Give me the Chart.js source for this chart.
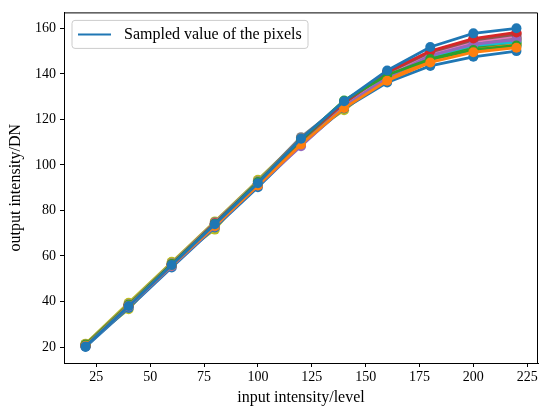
<!DOCTYPE html>
<html><head><meta charset="utf-8">
<script src="https://cdn.jsdelivr.net/npm/chart.js@4"></script>
<style>html,body{margin:0;padding:0;background:#fff}#wrap{width:543px;height:409px}</style>
</head><body><div id="wrap"><canvas id="c" width="543" height="409"></canvas></div>
<script>
// ---- data ----
const inputLevels = [20, 40, 60, 80, 100, 120, 140, 160, 180, 200, 220];
const xTicks = [25, 50, 75, 100, 125, 150, 175, 200, 225];
const yTicks = [20, 40, 60, 80, 100, 120, 140, 160];
const legendLabel = 'Sampled value of the pixels';

const pixel01 = [20.3, 38.0, 56.0, 74.0, 92.0, 111.5, 128.0, 141.5, 151.8, 157.8, 160.0];
const pixel02 = [20.6, 38.2, 55.8, 73.2, 91.0, 109.0, 125.0, 137.0, 145.0, 149.5, 151.5];
const pixel03 = [21.0, 38.6, 56.5, 74.2, 92.5, 111.0, 128.3, 139.5, 146.5, 150.5, 152.5];
const pixel04 = [20.7, 38.4, 56.4, 74.4, 92.3, 111.2, 127.5, 140.8, 150.0, 155.5, 158.2];
const pixel05 = [20.4, 37.8, 55.5, 73.0, 91.0, 108.2, 125.5, 138.5, 148.0, 153.0, 155.0];
const pixel06 = [20.8, 38.5, 56.3, 74.0, 91.8, 110.5, 127.0, 140.5, 149.5, 154.8, 157.3];
const pixel07 = [20.9, 38.6, 56.6, 74.5, 92.6, 110.8, 126.8, 140.0, 149.0, 154.2, 156.6];
const pixel08 = [21.1, 38.8, 56.8, 74.8, 92.8, 112.2, 127.2, 140.2, 148.8, 153.8, 156.0];
const pixel09 = [21.4, 39.5, 57.2, 75.2, 93.2, 111.8, 126.5, 139.8, 148.5, 153.5, 155.5];
const pixel10 = [20.6, 38.1, 55.9, 73.6, 91.5, 109.8, 126.0, 139.0, 147.8, 152.5, 154.0];
const pixel11 = [20.0, 37.2, 55.0, 72.5, 90.2, 108.8, 124.8, 136.2, 143.5, 147.5, 150.0];
const pixel12 = [20.5, 38.0, 55.6, 73.3, 91.2, 109.2, 125.6, 137.8, 146.0, 150.5, 152.9];
const pixel13 = [20.8, 38.4, 56.2, 73.9, 91.7, 110.2, 126.2, 138.6, 147.0, 151.5, 153.4];
const pixel14 = [20.9, 38.7, 56.5, 74.3, 92.0, 110.7, 127.3, 140.6, 149.8, 155.0, 157.7];
const pixel15 = [20.7, 38.3, 56.1, 73.8, 91.6, 109.8, 126.4, 139.3, 148.3, 153.2, 155.8];
const pixel16 = [20.6, 38.2, 56.0, 73.7, 91.4, 109.6, 126.0, 139.1, 148.2, 153.0, 154.6];
const pixel17 = [20.8, 38.5, 56.3, 74.1, 91.9, 110.1, 126.6, 139.5, 148.6, 153.6, 156.2];
const pixel18 = [20.5, 37.9, 55.7, 73.4, 91.3, 109.4, 125.9, 138.7, 147.6, 152.8, 155.2];
const pixel19 = [21.5, 36.6, 57.5, 71.6, 93.5, 111.5, 124.0, 139.2, 147.2, 152.0, 153.7];
const pixel20 = [20.6, 38.2, 56.0, 73.6, 91.5, 109.7, 126.1, 138.9, 147.4, 151.2, 152.2];

const seriesList = [pixel01, pixel02, pixel03, pixel04, pixel05, pixel06, pixel07, pixel08, pixel09, pixel10,
                    pixel11, pixel12, pixel13, pixel14, pixel15, pixel16, pixel17, pixel18, pixel19, pixel20];
const palette = ['#1f77b4', '#ff7f0e', '#2ca02c', '#d62728', '#9467bd', '#8c564b', '#e377c2', '#7f7f7f', '#bcbd22', '#17becf'];

// ---- chart ----
const FONT = 'Liberation Serif, "Times New Roman", Times, serif';
const tickFont = { family: FONT, size: 14 };

const datasets = seriesList.map((vals, i) => {
  const col = palette[i % palette.length];
  return {
    label: i === 0 ? legendLabel : '_nolegend_',
    data: inputLevels.map((x, j) => ({ x: x, y: vals[j] })),
    borderColor: col,
    backgroundColor: col,
    pointBackgroundColor: col,
    pointBorderWidth: 0,
    pointRadius: 5,
    borderWidth: 2.8,
    tension: 0,
    fill: false
  };
});

const framePlugin = {
  id: 'frame',
  afterDatasetsDraw(chart) {
    const { ctx, chartArea: a } = chart;
    ctx.save();
    ctx.strokeStyle = '#000';
    ctx.lineWidth = 1;
    ctx.beginPath();
    ctx.moveTo(a.left, a.top + 0.5);
    ctx.lineTo(a.right - 0.5, a.top + 0.5);
    ctx.lineTo(a.right - 0.5, a.bottom);
    ctx.stroke();
    ctx.restore();
  }
};

const legendPlugin = {
  id: 'boxLegend',
  afterDraw(chart) {
    const { ctx, chartArea: a } = chart;
    const x = a.left + 8, y = a.top + 8, w = 236, h = 28, r = 3;
    ctx.save();
    ctx.beginPath();
    ctx.moveTo(x + r, y);
    ctx.arcTo(x + w, y, x + w, y + h, r);
    ctx.arcTo(x + w, y + h, x, y + h, r);
    ctx.arcTo(x, y + h, x, y, r);
    ctx.arcTo(x, y, x + w, y, r);
    ctx.closePath();
    ctx.fillStyle = 'rgba(255,255,255,0.8)';
    ctx.fill();
    ctx.strokeStyle = '#cccccc';
    ctx.lineWidth = 1;
    ctx.stroke();
    ctx.strokeStyle = palette[0];
    ctx.lineWidth = 2;
    ctx.beginPath();
    ctx.moveTo(x + 6, y + h / 2);
    ctx.lineTo(x + 39, y + h / 2);
    ctx.stroke();
    ctx.fillStyle = '#000';
    ctx.font = '16px ' + FONT;
    ctx.textBaseline = 'middle';
    ctx.fillText(legendLabel, x + 52, y + h / 2 + 0.5);
    ctx.restore();
  }
};

new Chart(document.getElementById('c'), {
  type: 'line',
  data: { datasets },
  plugins: [framePlugin, legendPlugin],
  options: {
    responsive: false,
    animation: false,
    devicePixelRatio: 1,
    layout: { padding: { left: 0, right: 3, top: 7, bottom: 0 } },
    plugins: { legend: { display: false }, tooltip: { enabled: false } },
    scales: {
      x: {
        type: 'linear',
        min: 10, max: 230,
        afterBuildTicks: s => { s.ticks = xTicks.map(v => ({ value: v })); },
        afterFit: s => { s.height = 46; },
        ticks: { font: tickFont, color: '#000', padding: 2, maxRotation: 0, autoSkip: false },
        grid: { drawOnChartArea: false, drawTicks: true, tickLength: 4, color: '#000', lineWidth: 1 },
        border: { display: true, color: '#000', width: 1 },
        title: { display: true, text: 'input intensity/level', font: { family: FONT, size: 16 }, color: '#000', padding: { top: 0, bottom: 2 } }
      },
      y: {
        min: 13, max: 167,
        afterBuildTicks: s => { s.ticks = yTicks.map(v => ({ value: v })); },
        afterFit: s => { s.width = 64; },
        ticks: { font: tickFont, color: '#000', padding: 4, autoSkip: false },
        grid: { drawOnChartArea: false, drawTicks: true, tickLength: 4, color: '#000', lineWidth: 1 },
        border: { display: true, color: '#000', width: 1 },
        title: { display: true, text: 'output intensity/DN', font: { family: FONT, size: 16 }, color: '#000', padding: { top: 6, bottom: 0 } }
      }
    }
  }
});
</script>
</body></html>
